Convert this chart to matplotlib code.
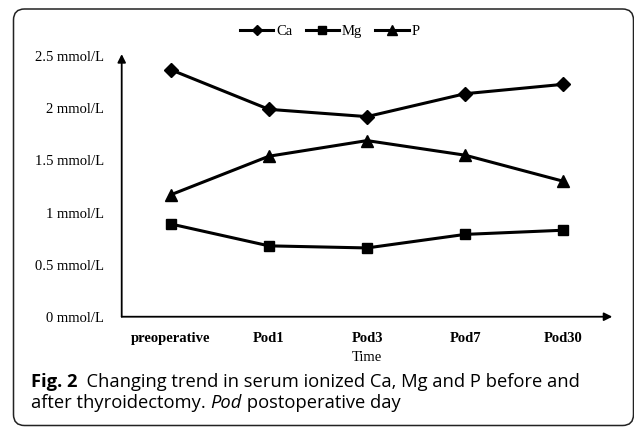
import matplotlib
matplotlib.use("Agg")
import matplotlib.pyplot as plt
from matplotlib.patches import FancyBboxPatch
from matplotlib.transforms import IdentityTransform

times = ["preoperative", "Pod1", "Pod3", "Pod7", "Pod30"]
ca = [2.37, 1.99, 1.92, 2.14, 2.23]
mg = [0.89, 0.68, 0.66, 0.79, 0.83]
p = [1.17, 1.54, 1.69, 1.55, 1.30]
yticks = [0, 0.5, 1, 1.5, 2, 2.5]
ylabels = ["0 mmol/L", "0.5 mmol/L", "1 mmol/L", "1.5 mmol/L", "2 mmol/L", "2.5 mmol/L"]

serif = "Liberation Serif"
sans = "Open Sans"
W, H = 634, 428

fig = plt.figure(figsize=(W / 100, H / 100), dpi=100)
ax = fig.add_axes([121.7 / W, 0.260, (612.3 - 121.7) / W, 0.6136])

x = list(range(len(times)))
ax.plot(x, ca, color="black", lw=2.2, marker="D", ms=7, label="Ca")
ax.plot(x, mg, color="black", lw=2.2, marker="s", ms=7, label="Mg")
ax.plot(x, p, color="black", lw=2.2, marker="^", ms=9, label="P")

ax.set_xlim(-0.5, 4.5)
ax.set_ylim(0, 2.52)
for s in ax.spines.values():
    s.set_visible(False)

# axis lines with arrow heads
ax.annotate("", xy=(1, 0), xytext=(0, 0), xycoords="axes fraction",
            arrowprops=dict(arrowstyle="-|>", color="black", lw=1.3,
                            mutation_scale=12, shrinkA=0, shrinkB=0))
ax.annotate("", xy=(0, 1), xytext=(0, 0), xycoords="axes fraction",
            arrowprops=dict(arrowstyle="-|>", color="black", lw=1.3,
                            mutation_scale=12, shrinkA=0, shrinkB=0))

ax.set_yticks(yticks)
ax.set_yticklabels(ylabels, fontfamily=serif, fontsize=10.5)
ax.set_xticks(x)
ax.set_xticklabels(times, fontfamily=serif, fontsize=10.5, fontweight="bold")
ax.tick_params(axis="y", length=0, pad=13)
ax.tick_params(axis="x", length=0, pad=11)

fig.text(367.3 / W, 1 - 357.3 / H, "Time", ha="center", va="center",
         fontfamily=serif, fontsize=10.5)

ax.legend(loc="center", bbox_to_anchor=(330 / W, 1 - 31.7 / H),
          bbox_transform=fig.transFigure, ncol=3, frameon=False,
          prop={"family": serif, "size": 10.5}, handlelength=2.3,
          handletextpad=0.2, columnspacing=0.9, markerscale=0.8)

# rounded frame around the figure
box = FancyBboxPatch((13.5, 2.5), 620, 416.5, boxstyle="round,pad=0,rounding_size=11",
                     transform=IdentityTransform(), fill=False, ec="#222222", lw=1.1)
fig.patches.append(box)

# caption with mixed styles
fig.canvas.draw()
renderer = fig.canvas.get_renderer()


def put(parts, x0, ycen):
    xx = x0
    for txt, kw in parts:
        t = fig.text(xx / W, 1 - ycen / H, txt, ha="left", va="center",
                     fontfamily=sans, fontsize=13.2, **kw)
        bb = t.get_window_extent(renderer)
        xx += bb.width


put([("Fig. 2", {"fontweight": "bold"}),
     ("  Changing trend in serum ionized Ca, Mg and P before and", {})], 30.7, 381.7)
put([("after thyroidectomy. ", {}), ("Pod", {"fontstyle": "italic"}),
     (" postoperative day", {})], 30.7, 403.5)

fig.savefig("out.png", dpi=100)
